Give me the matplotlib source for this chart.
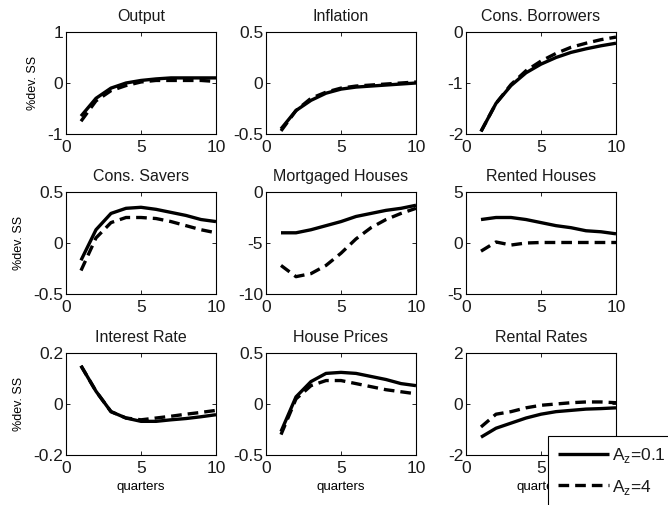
import matplotlib
matplotlib.use("Agg")
import matplotlib.pyplot as plt
import numpy as np

plt.rcParams['font.family'] = ['Liberation Sans', 'DejaVu Sans']
plt.rcParams['mathtext.fontset'] = 'custom'
plt.rcParams['mathtext.rm'] = 'Liberation Sans'
plt.rcParams['text.color'] = '#1a1a1a'
plt.rcParams['xtick.labelcolor'] = '#1a1a1a'
plt.rcParams['ytick.labelcolor'] = '#1a1a1a'

quarters = [1, 2, 3, 4, 5, 6, 7, 8, 9, 10]

titles = ["Output", "Inflation", "Cons. Borrowers",
          "Cons. Savers", "Mortgaged Houses", "Rented Houses",
          "Interest Rate", "House Prices", "Rental Rates"]

output_a01 = [-0.65, -0.3, -0.1, 0.0, 0.05, 0.08, 0.1, 0.1, 0.1, 0.1]
output_a4 = [-0.75, -0.35, -0.15, -0.05, 0.02, 0.05, 0.05, 0.05, 0.05, 0.03]
inflation_a01 = [-0.45, -0.27, -0.17, -0.1, -0.06, -0.04, -0.03, -0.02, -0.01, 0.0]
inflation_a4 = [-0.47, -0.27, -0.15, -0.09, -0.05, -0.03, -0.02, -0.01, 0.0, 0.01]
borrowers_a01 = [-1.95, -1.4, -1.05, -0.8, -0.63, -0.5, -0.4, -0.33, -0.27, -0.22]
borrowers_a4 = [-1.95, -1.4, -1.03, -0.76, -0.57, -0.42, -0.3, -0.22, -0.15, -0.1]
savers_a01 = [-0.17, 0.13, 0.29, 0.34, 0.35, 0.33, 0.3, 0.27, 0.23, 0.21]
savers_a4 = [-0.27, 0.05, 0.2, 0.25, 0.25, 0.24, 0.21, 0.17, 0.13, 0.1]
mortgaged_a01 = [-4.0, -4.0, -3.7, -3.3, -2.9, -2.4, -2.1, -1.8, -1.6, -1.3]
mortgaged_a4 = [-7.2, -8.3, -8.0, -7.2, -6.0, -4.6, -3.5, -2.7, -2.1, -1.6]
rented_a01 = [2.3, 2.5, 2.5, 2.3, 2.0, 1.7, 1.5, 1.2, 1.1, 0.9]
rented_a4 = [-0.8, 0.1, -0.2, 0.0, 0.05, 0.05, 0.05, 0.05, 0.05, 0.05]
interest_a01 = [0.15, 0.05, -0.03, -0.055, -0.068, -0.068, -0.062, -0.057, -0.05, -0.042]
interest_a4 = [0.15, 0.05, -0.03, -0.055, -0.062, -0.055, -0.048, -0.04, -0.033, -0.025]
hprices_a01 = [-0.27, 0.07, 0.22, 0.3, 0.31, 0.3, 0.27, 0.24, 0.2, 0.18]
hprices_a4 = [-0.3, 0.05, 0.18, 0.23, 0.23, 0.2, 0.17, 0.14, 0.12, 0.1]
rental_a01 = [-1.3, -0.95, -0.75, -0.55, -0.4, -0.3, -0.25, -0.2, -0.18, -0.15]
rental_a4 = [-0.9, -0.4, -0.3, -0.15, -0.05, 0.0, 0.05, 0.08, 0.08, 0.05]

series_a01 = [output_a01, inflation_a01, borrowers_a01, savers_a01, mortgaged_a01,
              rented_a01, interest_a01, hprices_a01, rental_a01]
series_a4 = [output_a4, inflation_a4, borrowers_a4, savers_a4, mortgaged_a4,
             rented_a4, interest_a4, hprices_a4, rental_a4]

ylims = [(-1, 1), (-0.5, 0.5), (-2, 0), (-0.5, 0.5), (-10, 0), (-5, 5),
         (-0.2, 0.2), (-0.5, 0.5), (-2, 2)]
yticks = [[-1, 0, 1], [-0.5, 0, 0.5], [-2, -1, 0], [-0.5, 0, 0.5], [-10, -5, 0],
          [-5, 0, 5], [-0.2, 0, 0.2], [-0.5, 0, 0.5], [-2, 0, 2]]
ytlabels = [["-1", "0", "1"], ["-0.5", "0", "0.5"], ["-2", "-1", "0"],
            ["-0.5", "0", "0.5"], ["-10", "-5", "0"], ["-5", "0", "5"],
            ["-0.2", "0", "0.2"], ["-0.5", "0", "0.5"], ["-2", "0", "2"]]
xticks = [0, 5, 10]
legend_labels = ["A$_\\mathregular{z}$=0.1", "A$_\\mathregular{z}$=4"]

W, H = 668, 505
fig = plt.figure(figsize=(W / 100, H / 100), dpi=100)

col_left = [66, 266, 466]
col_w = 150
row_top = [32, 192, 353]
row_h = 102

lines_for_legend = None
for i in range(9):
    r, c = divmod(i, 3)
    ax = fig.add_axes([col_left[c] / W, 1 - (row_top[r] + row_h) / H, col_w / W, row_h / H])
    l1, = ax.plot(quarters, series_a01[i], color='black', lw=2.4, solid_capstyle='butt')
    l2, = ax.plot(quarters, series_a4[i], color='black', lw=2.4, ls=(0, (3.2, 1.8)),
                  dash_capstyle='butt')
    if lines_for_legend is None:
        lines_for_legend = (l1, l2)
    ax.set_xlim(0, 10)
    ax.set_ylim(*ylims[i])
    ax.set_xticks(xticks)
    ax.set_yticks(yticks[i])
    ax.set_yticklabels(ytlabels[i])
    ax.tick_params(direction='in', top=True, right=True, labelsize=12.5, length=3,
                   width=0.6)
    ax.tick_params(axis='x', pad=4)
    ax.tick_params(axis='y', pad=2)
    for s in ax.spines.values():
        s.set_linewidth(0.8)
    ax.set_title(titles[i], fontsize=11.5, pad=8)
    if c == 0:
        ax.set_ylabel("%dev. SS", fontsize=9, labelpad=6)
    if r == 2:
        ax.set_xlabel("quarters", fontsize=9.5, labelpad=4)

leg = fig.legend(lines_for_legend, legend_labels, loc='upper left',
                 bbox_to_anchor=(548 / W, 1 - 436 / H), fontsize=12.5,
                 frameon=True, fancybox=False, handlelength=2.9, handletextpad=0.2,
                 borderpad=0.6, labelspacing=0.7, borderaxespad=0)
leg.get_frame().set_edgecolor('black')
leg.get_frame().set_linewidth(0.8)
leg.get_frame().set_alpha(1)

fig.savefig("out.png", dpi=100)
